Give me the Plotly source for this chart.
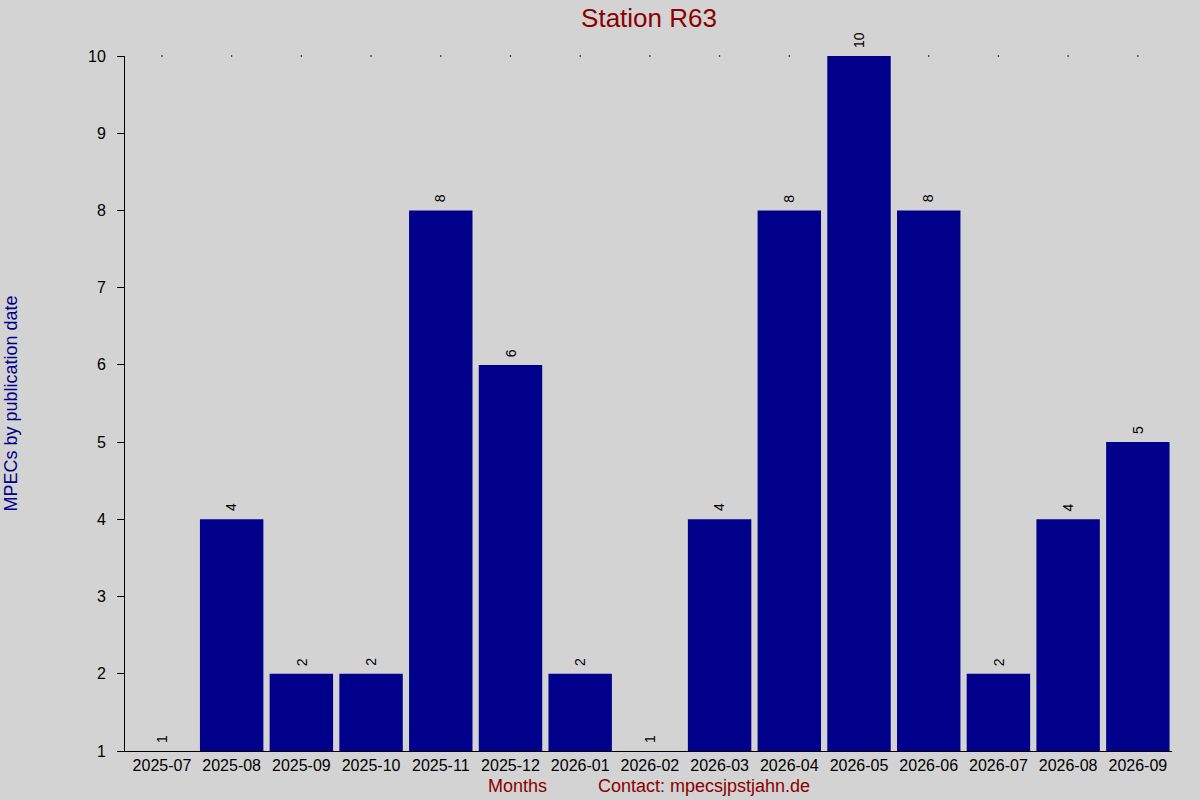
import plotly.graph_objects as go

months = ["2025-07", "2025-08", "2025-09", "2025-10", "2025-11", "2025-12", "2026-01",
          "2026-02", "2026-03", "2026-04", "2026-05", "2026-06", "2026-07", "2026-08", "2026-09"]
counts = [1, 4, 2, 2, 8, 6, 2, 1, 4, 8, 10, 8, 2, 4, 5]
y_ticks = [1, 2, 3, 4, 5, 6, 7, 8, 9, 10]

ymin, ymax = 1, 10
FONT = "Liberation Sans, Arial, sans-serif"

fig = go.Figure()

fig.add_trace(go.Bar(
    x=months, y=[c - ymin for c in counts], base=ymin,
    marker=dict(color="#00008B", line=dict(width=0)),
    width=0.91, hoverinfo="skip", showlegend=False,
))

# dotted top grid markers (hidden behind full-height bars)
dot_x = [m for m, c in zip(months, counts) if c < ymax]
fig.add_trace(go.Scatter(
    x=dot_x, y=[ymax] * len(dot_x), mode="markers",
    marker=dict(size=1.6, color="black"), hoverinfo="skip", showlegend=False,
    cliponaxis=False,
))

annotations = []
for m, c in zip(months, counts):
    annotations.append(dict(
        x=m, y=c, xref="x", yref="y", text=str(c), textangle=-90,
        xanchor="center", yanchor="bottom", yshift=6, showarrow=False,
        font=dict(family=FONT, size=14, color="black"),
    ))

annotations += [
    dict(text="MPECs by publication date", xref="paper", yref="paper",
         x=-125 / 1047, y=0.5, xanchor="left", yanchor="middle", textangle=-90,
         showarrow=False, font=dict(family=FONT, size=18, color="#00008B"), xshift=-2),
    dict(text="Months", xref="paper", yref="paper", x=(517 - 125) / 1047, y=-35 / 695,
         xanchor="center", yanchor="middle", showarrow=False,
         font=dict(family=FONT, size=18, color="#8B0000")),
    dict(text="Contact: mpecsjpstjahn.de", xref="paper", yref="paper",
         x=(704 - 125) / 1047, y=-35 / 695,
         xanchor="center", yanchor="middle", showarrow=False,
         font=dict(family=FONT, size=18, color="#8B0000")),
]

fig.update_layout(
    width=1200, height=800,
    paper_bgcolor="#D3D3D3", plot_bgcolor="#D3D3D3",
    margin=dict(l=125, r=28, t=56, b=49),
    font=dict(family=FONT, size=16, color="black"),
    title=dict(text="Station R63", x=(649) / 1200, xanchor="center", y=1 - 18 / 800, yanchor="middle",
               font=dict(family=FONT, size=26, color="#8B0000")),
    xaxis=dict(
        type="category", categoryorder="array", categoryarray=months,
        range=[-0.53, 14.49],
        showline=True, linecolor="black", linewidth=1,
        ticks="", showgrid=False, zeroline=False,
        tickfont=dict(family=FONT, size=16, color="black"),
    ),
    yaxis=dict(
        range=[ymin, ymax], tickvals=y_ticks, ticktext=[str(t) for t in y_ticks],
        showline=True, linecolor="black", linewidth=1,
        ticks="outside", ticklen=7, tickcolor="black", showgrid=False, zeroline=False,
        ticklabelstandoff=8,
        tickfont=dict(family=FONT, size=16, color="black"),
    ),
    annotations=annotations,
)

fig.write_html("out.html", config={"displayModeBar": False},
               post_script="document.body.style.margin='0';")
